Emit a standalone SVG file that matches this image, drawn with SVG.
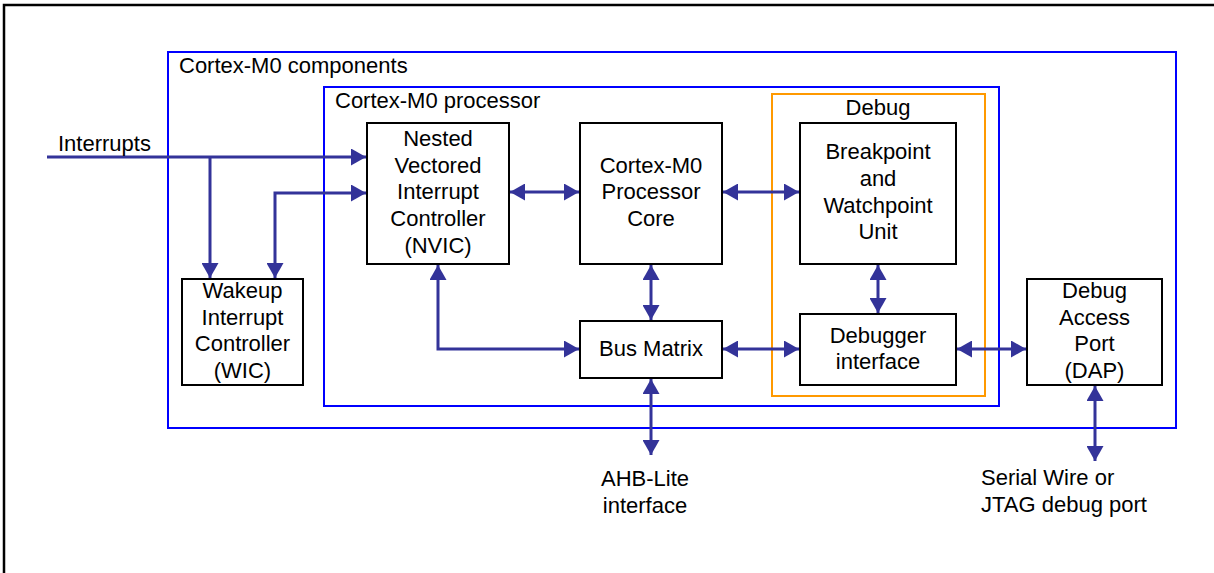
<svg xmlns="http://www.w3.org/2000/svg" width="1214" height="573" viewBox="0 0 1214 573">
<style>
text{font-family:"Liberation Sans",Arial,sans-serif;font-size:22px;fill:#000}
.c{text-anchor:middle}
.box{fill:#fff;stroke:#000;stroke-width:2}
.blue{fill:none;stroke:#0000ff;stroke-width:2}
.orange{fill:none;stroke:#ff9900;stroke-width:2}
.con{fill:none;stroke:#333399;stroke-width:3}
.one{marker-end:url(#ah)}
.two{marker-start:url(#ah);marker-end:url(#ah)}
</style>
<defs>
<marker id="ah" markerUnits="userSpaceOnUse" markerWidth="17" markerHeight="17" refX="15" refY="8.5" orient="auto-start-reverse">
<path d="M0,0 L15,8.5 L0,17 Z" fill="#333399"/>
</marker>
</defs>
<rect x="0" y="0" width="1214" height="573" fill="#fff"/>
<rect x="4" y="5" width="1220" height="580" fill="none" stroke="#000" stroke-width="2.5"/>
<g id="components">
<rect class="blue" x="168" y="52" width="1008" height="376"/>
<text x="179" y="73">Cortex-M0 components</text>
</g>
<g id="processor">
<rect class="blue" x="324" y="87" width="675" height="319"/>
<text x="335" y="108">Cortex-M0 processor</text>
</g>
<g id="debug">
<rect class="orange" x="772" y="94" width="213" height="302"/>
<text class="c" x="878" y="115">Debug</text>
</g>
<g id="connectors">
<path class="con one" d="M47,157 L366,157"/>
<path class="con one" d="M210,157 L210,278"/>
<path class="con two" d="M275,278 L275,193 L366,193"/>
<path class="con two" d="M438,265 L438,349 L579,349"/>
<path class="con two" d="M510,192 L579,192"/>
<path class="con two" d="M723,192 L799,192"/>
<path class="con two" d="M651,265 L651,320"/>
<path class="con two" d="M723,349 L799,349"/>
<path class="con two" d="M878,265 L878,313"/>
<path class="con two" d="M957,349 L1026,349"/>
<path class="con two" d="M651,379 L651,455"/>
<path class="con two" d="M1095,386 L1095,461"/>
</g>
<g id="interrupts"><text x="58" y="151">Interrupts</text></g>
<g id="nvic">
<rect class="box" x="367" y="123" width="142" height="141"/>
<text class="c" x="438" y="146">Nested</text>
<text class="c" x="438" y="172.7">Vectored</text>
<text class="c" x="438" y="199.4">Interrupt</text>
<text class="c" x="438" y="226.1">Controller</text>
<text class="c" x="438" y="252.8">(NVIC)</text>
</g>
<g id="core">
<rect class="box" x="580" y="123" width="142" height="141"/>
<text class="c" x="651" y="172.7">Cortex-M0</text>
<text class="c" x="651" y="199.4">Processor</text>
<text class="c" x="651" y="226.1">Core</text>
</g>
<g id="bwu">
<rect class="box" x="800" y="123" width="156" height="141"/>
<text class="c" x="878" y="159.3">Breakpoint</text>
<text class="c" x="878" y="186">and</text>
<text class="c" x="878" y="212.7">Watchpoint</text>
<text class="c" x="878" y="239.4">Unit</text>
</g>
<g id="busmatrix">
<rect class="box" x="580" y="321" width="142" height="57"/>
<text class="c" x="651" y="356">Bus Matrix</text>
</g>
<g id="debugif">
<rect class="box" x="800" y="314" width="156" height="71"/>
<text class="c" x="878" y="342.5">Debugger</text>
<text class="c" x="878" y="369.2">interface</text>
</g>
<g id="wic">
<rect class="box" x="182" y="279" width="121" height="106"/>
<text class="c" x="242.5" y="298">Wakeup</text>
<text class="c" x="242.5" y="324.7">Interrupt</text>
<text class="c" x="242.5" y="351.4">Controller</text>
<text class="c" x="242.5" y="378.1">(WIC)</text>
</g>
<g id="dap">
<rect class="box" x="1027" y="279" width="135" height="106"/>
<text class="c" x="1094.5" y="298">Debug</text>
<text class="c" x="1094.5" y="324.7">Access</text>
<text class="c" x="1094.5" y="351.4">Port</text>
<text class="c" x="1094.5" y="378.1">(DAP)</text>
</g>
<g id="ahb">
<text class="c" x="645" y="486">AHB-Lite</text>
<text class="c" x="645" y="512.5">interface</text>
</g>
<g id="swj">
<text x="981" y="485">Serial Wire or</text>
<text x="981" y="511.5">JTAG debug port</text>
</g>
</svg>
